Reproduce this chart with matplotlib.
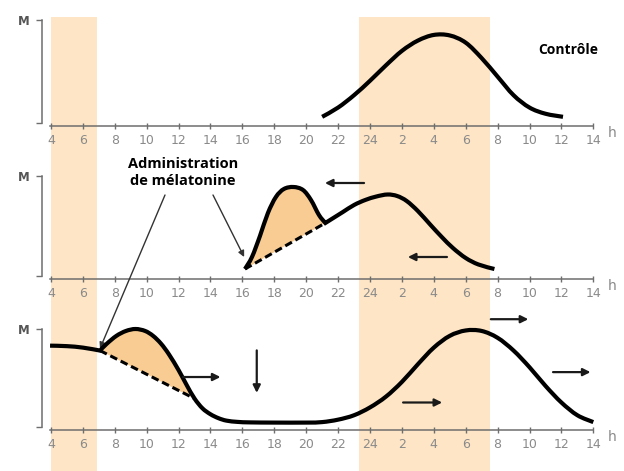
import matplotlib
matplotlib.use("Agg")
import matplotlib.pyplot as plt
from matplotlib.path import Path
from matplotlib.patches import PathPatch
import numpy as np

# ---------------- data ----------------
tick_hours = [4, 6, 8, 10, 12, 14, 16, 18, 20, 22, 24, 26, 28, 30, 32, 34, 36, 38]
tick_labels = ['4', '6', '8', '10', '12', '14', '16', '18', '20', '22', '24',
               '2', '4', '6', '8', '10', '12', '14']

night_bands = [(4.0, 6.9), (23.33, 31.5)]

# Panel 1 : control
ctrl_h = [21.0, 22.0, 23.0, 24.0, 25.0, 26.0, 27.0, 28.0, 29.0, 30.0, 31.0, 32.0, 33.0, 34.0, 35.0, 36.1]
ctrl_v = [0.06, 0.15, 0.27, 0.41, 0.56, 0.70, 0.80, 0.855, 0.85, 0.78, 0.63, 0.45, 0.27, 0.15, 0.09, 0.06]

# Panel 2 : melatonin given at 16h (advance)
adv_h = [16.16, 16.6, 17.1, 17.6, 18.1, 18.6, 19.2, 19.8, 20.3, 20.8, 21.2,
         21.7, 22.3, 23.0, 23.7, 24.4, 25.1, 25.7, 26.3, 27.0, 27.8, 28.5, 29.2, 30.0, 30.8, 31.8]
adv_v = [0.07, 0.19, 0.40, 0.63, 0.79, 0.87, 0.89, 0.86, 0.76, 0.61, 0.53,
         0.58, 0.64, 0.71, 0.76, 0.795, 0.815, 0.80, 0.75, 0.65, 0.51, 0.39, 0.28, 0.18, 0.115, 0.07]
adv_kink = 21.2
adv_base_h = [16.16, 21.2]
adv_base_v = [0.07, 0.53]

# Panel 3 : melatonin given at 7h (delay)
del_h = [3.94, 5.0, 6.0, 7.07, 7.5, 8.1, 8.7, 9.3, 9.9, 10.4, 10.9, 11.4, 12.0, 12.5, 13.0, 13.5,
         14.0, 14.5, 15.0, 15.7, 16.5, 18.0, 20.0, 21.0, 22.0, 23.0, 24.0, 25.0, 26.0, 27.0,
         28.0, 29.0, 30.0, 31.0, 32.0, 33.0, 34.0, 35.0, 36.0, 37.0, 38.0]
del_v = [0.83, 0.825, 0.81, 0.78, 0.85, 0.93, 0.98, 1.00, 0.98, 0.93, 0.85, 0.74, 0.58, 0.43, 0.29, 0.19,
         0.13, 0.09, 0.065, 0.052, 0.047, 0.045, 0.045, 0.05, 0.075, 0.12, 0.20, 0.31, 0.46, 0.64,
         0.81, 0.93, 0.985, 0.98, 0.91, 0.78, 0.61, 0.42, 0.25, 0.12, 0.05]
del_kink = 7.07
del_base_h = [7.07, 13.0]
del_base_v = [0.78, 0.29]

# ---------------- helpers ----------------
def bezier_through(xs, ys, start_move=True):
    """Catmull-Rom through the read points, rendered as cubic Bezier segments."""
    P = np.column_stack([xs, ys]).astype(float)
    n = len(P)
    verts, codes = [], []
    if start_move:
        verts.append(tuple(P[0])); codes.append(Path.MOVETO)
    for i in range(n - 1):
        p0 = P[i - 1] if i > 0 else P[i]
        p1, p2 = P[i], P[i + 1]
        p3 = P[i + 2] if i + 2 < n else P[i + 1]
        c1 = p1 + (p2 - p0) / 6.0
        c2 = p2 - (p3 - p1) / 6.0
        verts += [tuple(c1), tuple(c2), tuple(p2)]
        codes += [Path.CURVE4] * 3
    return verts, codes

def curve_path(xs, ys, kink=None):
    xs = np.asarray(xs, float); ys = np.asarray(ys, float)
    if kink is None:
        return bezier_through(xs, ys)
    k = int(np.argmin(np.abs(xs - kink)))
    v1, c1 = bezier_through(xs[:k + 1], ys[:k + 1])
    v2, c2 = bezier_through(xs[k:], ys[k:], start_move=False)
    return v1 + v2, c1 + c2

def draw_curve(ax, xs, ys, kink=None, **kw):
    v, c = curve_path(xs, ys, kink)
    ax.add_patch(PathPatch(Path(v, c), fill=False, **kw))

def draw_fill(ax, xs, ys, bx, by, color):
    xs = np.asarray(xs, float); ys = np.asarray(ys, float)
    m = (xs >= bx[0] - 1e-9) & (xs <= bx[1] + 1e-9)
    v, c = curve_path(xs[m], ys[m])
    v = v + [(bx[0], by[0]), (bx[0], by[0])]
    c = c + [Path.LINETO, Path.CLOSEPOLY]
    ax.add_patch(PathPatch(Path(v, c), facecolor=color, edgecolor='none', lw=0, zorder=3))

# ---------------- layout ----------------
W, H = 624, 471
fig = plt.figure(figsize=(W / 100, H / 100), dpi=100)
fig.patch.set_facecolor('white')

X_LEFT_PX, X_RIGHT_PX = 42, 600
PX_PER_H = 15.95
xmin = 4 - (51 - X_LEFT_PX) / PX_PER_H
xmax = 4 + (X_RIGHT_PX - 51) / PX_PER_H

band_col = '#fde5c6'
fill_col = '#f8cc92'
axis_col = '#6e6e6e'
label_col = '#8a8a8a'

bg = fig.add_axes([X_LEFT_PX / W, 0, (X_RIGHT_PX - X_LEFT_PX) / W, 1])
bg.set_xlim(xmin, xmax)
bg.set_ylim(0, 1)
bg.axis('off')
for a, b in night_bands:
    bg.axvspan(a, b, ymin=0, ymax=1 - 17 / H, color=band_col, lw=0, zorder=0)

panels = [(126, 123, 20, 8), (279, 276, 176, 160), (430, 427, 329, 306)]
axes = []
for ybot, y0, y1, ytop in panels:
    scale = y0 - y1
    ax = fig.add_axes([X_LEFT_PX / W, 1 - ybot / H, (X_RIGHT_PX - X_LEFT_PX) / W, (ybot - ytop) / H])
    ax.set_facecolor('none')
    ax.set_xlim(xmin, xmax)
    ax.set_ylim(-(ybot - y0) / scale, 1 + (y1 - ytop) / scale)
    for s in ['top', 'right']:
        ax.spines[s].set_visible(False)
    ax.spines['left'].set_bounds(0, 1)
    ax.spines['bottom'].set_bounds(3.94, 38)
    for s in ['left', 'bottom']:
        ax.spines[s].set_color(axis_col)
        ax.spines[s].set_linewidth(1.1)
    ax.set_xticks(tick_hours)
    ax.set_xticklabels(tick_labels)
    ax.tick_params(axis='x', direction='inout', length=5, width=1, color=axis_col,
                   labelsize=9, labelcolor=label_col, pad=3)
    ax.set_yticks([0, 1])
    ax.set_yticklabels(['', 'M'], fontweight='bold')
    ax.tick_params(axis='y', direction='out', length=4, width=1, color=axis_col,
                   labelsize=8.5, labelcolor='#555555', pad=5)
    ax.text(39.2, -(ybot - y0) / scale, 'h', fontsize=10, color=label_col,
            ha='center', va='top', clip_on=False)
    axes.append(ax)

ax1, ax2, ax3 = axes
curve_kw = dict(edgecolor='black', lw=3.0, capstyle='butt', joinstyle='miter', zorder=5)
dash_kw = dict(color='black', lw=2.2, linestyle=(0, (2.5, 1.3)), zorder=4)

# panel 1
draw_curve(ax1, ctrl_h, ctrl_v, **curve_kw)
ax1.text(36.41, 0.71, 'Contrôle', fontsize=10, fontweight='bold', family='Open Sans',
         ha='center', va='center')

# panel 2
draw_fill(ax2, adv_h, adv_v, adv_base_h, adv_base_v, fill_col)
ax2.plot(adv_base_h, adv_base_v, **dash_kw)
draw_curve(ax2, adv_h, adv_v, kink=adv_kink, **curve_kw)

# panel 3
draw_fill(ax3, del_h, del_v, del_base_h, del_base_v, fill_col)
ax3.plot(del_base_h, del_base_v, **dash_kw)
draw_curve(ax3, del_h, del_v, kink=del_kink, **curve_kw)

# shift arrows
arrow_kw = dict(arrowstyle='-|>', color='#1a1a1a', lw=1.6, mutation_scale=11)
def arr(ax, x0, y0, x1, y1):
    ax.annotate('', xy=(x1, y1), xytext=(x0, y0), arrowprops=arrow_kw,
                annotation_clip=False, zorder=6)

arr(ax2, 23.8, 0.93, 21.0, 0.93)
arr(ax2, 29.0, 0.19, 26.2, 0.19)
arr(ax3, 12.1, 0.51, 14.8, 0.51)
arr(ax3, 16.9, 0.81, 16.9, 0.32)
arr(ax3, 31.4, 1.10, 34.1, 1.10)
arr(ax3, 35.3, 0.56, 38.0, 0.56)
arr(ax3, 25.9, 0.25, 28.7, 0.25)

# annotation text + pointer lines
fig.text(183 / W, 1 - 172.5 / H, 'Administration\nde mélatonine', fontsize=10.5, fontweight='bold',
         family='Open Sans', ha='center', va='center', linespacing=1.35)
ptr_kw = dict(arrowstyle='-|>', color='#333333', lw=1.0, mutation_scale=9, shrinkA=0, shrinkB=0)
ax3.annotate('', xy=(del_base_h[0], del_base_v[0] + 0.02), xycoords='data',
             xytext=(165, H - 195), textcoords='figure pixels', arrowprops=ptr_kw,
             annotation_clip=False)
ax2.annotate('', xy=(adv_base_h[0] - 0.05, adv_base_v[0] + 0.12), xycoords='data',
             xytext=(213, H - 195), textcoords='figure pixels', arrowprops=ptr_kw,
             annotation_clip=False)

fig.savefig('out.png', dpi=100)
